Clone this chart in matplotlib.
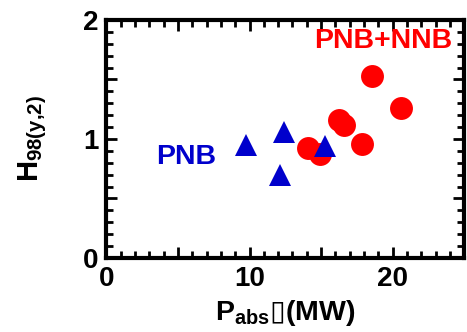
import matplotlib
matplotlib.use("Agg")
import matplotlib.pyplot as plt
from matplotlib.ticker import MultipleLocator, FuncFormatter

plt.rcParams['font.family'] = ['Liberation Sans', 'DejaVu Sans']
plt.rcParams['font.weight'] = 'bold'
plt.rcParams['mathtext.fontset'] = 'custom'
plt.rcParams['mathtext.rm'] = 'Liberation Sans:bold'
plt.rcParams['mathtext.bf'] = 'Liberation Sans:bold'
plt.rcParams['mathtext.it'] = 'Liberation Sans:bold'
plt.rcParams['mathtext.sf'] = 'DejaVu Sans'

# --- data ---
pnb_p = [9.75, 12.4, 12.15, 15.3]
pnb_h = [0.95, 1.06, 0.70, 0.94]

nnb_p = [14.1, 14.9, 16.25, 16.6, 17.85, 18.55, 20.55]
nnb_h = [0.92, 0.87, 1.16, 1.12, 0.96, 1.53, 1.26]

red = '#ff0000'
blue = '#0000cc'

fig = plt.figure(figsize=(4.67, 3.32), dpi=100)
ax = fig.add_axes([0.228, 0.223, 0.766, 0.717])

ax.plot(nnb_p, nnb_h, 'o', color=red, markersize=16.5, markeredgewidth=0, zorder=3)
ax.plot(pnb_p, pnb_h, '^', color=blue, markersize=16.5, markeredgewidth=0, zorder=4)

ax.text(14.5, 1.82, 'PNB+NNB', color=red, fontsize=20.5, fontweight='bold', va='center')
ax.text(3.5, 0.85, 'PNB', color=blue, fontsize=20.5, fontweight='bold', va='center')

ax.set_xlim(0, 25)
ax.set_ylim(0, 2)

ax.xaxis.set_major_locator(MultipleLocator(5))
ax.xaxis.set_minor_locator(MultipleLocator(1))
ax.yaxis.set_major_locator(MultipleLocator(0.5))
ax.yaxis.set_minor_locator(MultipleLocator(0.1))
ax.xaxis.set_major_formatter(FuncFormatter(lambda v, p: f'{v:.0f}' if v % 10 == 0 else ''))
ax.yaxis.set_major_formatter(FuncFormatter(lambda v, p: f'{v:.0f}' if v % 1 == 0 else ''))

ax.tick_params(which='both', direction='in', top=True, right=True, width=2)
ax.tick_params(which='major', length=8, labelsize=20, pad=6)
ax.tick_params(which='minor', length=5)
for lab in ax.get_xticklabels() + ax.get_yticklabels():
    lab.set_fontweight('bold')

for s in ax.spines.values():
    s.set_linewidth(3)

ax.set_xlabel('$\\mathbf{P_{abs}}\\mathsf{\u25af}$(MW)', fontsize=20.5, fontweight='bold', labelpad=4)
ax.set_ylabel('$\\mathbf{H_{98(y{,}2)}}$', fontsize=21, fontweight='bold', labelpad=24)

fig.savefig('out.png', dpi=100)
